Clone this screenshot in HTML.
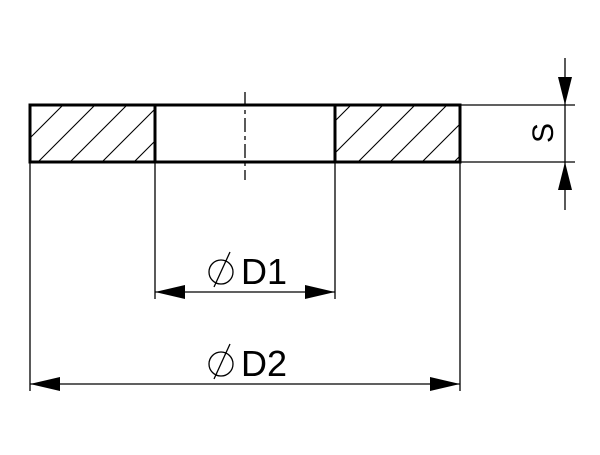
<!DOCTYPE html>
<html><head><style>body{margin:0;background:#fff}</style></head><body>
<svg width="600" height="450" viewBox="0 0 600 450" xmlns="http://www.w3.org/2000/svg">
<defs>
<pattern id="h" patternUnits="userSpaceOnUse" width="32" height="32" patternTransform="translate(8,0)">
<path d="M-8,40 L40,-8 M-40,40 L40,-40 M24,40 L72,-8" stroke="#000" stroke-width="1.1"/>
</pattern>
</defs>
<rect x="30" y="105" width="125" height="57" fill="url(#h)"/>
<rect x="335" y="105" width="125" height="57" fill="url(#h)"/>
<g fill="none" stroke="#000">
<rect x="30" y="105" width="430" height="57" stroke-width="3"/>
<line x1="155" y1="105" x2="155" y2="162" stroke-width="3"/>
<line x1="335" y1="105" x2="335" y2="162" stroke-width="3"/>
<line x1="245" y1="92" x2="245" y2="180" stroke-width="1.3" stroke-dasharray="14,4,4,4"/>
<g stroke-width="1.3">
<line x1="30" y1="162" x2="30" y2="391"/>
<line x1="460" y1="162" x2="460" y2="391"/>
<line x1="155" y1="162" x2="155" y2="299"/>
<line x1="335" y1="162" x2="335" y2="299"/>
<line x1="155" y1="292" x2="335" y2="292"/>
<line x1="30" y1="384" x2="460" y2="384"/>
<line x1="460" y1="105" x2="575" y2="105"/>
<line x1="460" y1="162" x2="575" y2="162"/>
<line x1="565" y1="58" x2="565" y2="210"/>
<circle cx="221" cy="272" r="12"/>
<line x1="230" y1="252" x2="214" y2="287"/>
<circle cx="221" cy="364" r="12"/>
<line x1="230" y1="344" x2="214" y2="379"/>
</g>
</g>
<g fill="#000">
<polygon points="155,292 185,285 185,299"/>
<polygon points="335,292 305,285 305,299"/>
<polygon points="30,384 60,377 60,391"/>
<polygon points="460,384 430,377 430,391"/>
<polygon points="565,105 558,77 572,77"/>
<polygon points="565,162 558,190 572,190"/>
</g>
<g font-family="Liberation Sans, sans-serif" font-size="36" fill="#000">
<text x="241" y="284">D1</text>
<text x="241" y="376">D2</text>
<text transform="translate(553,133) rotate(-90)" text-anchor="middle" font-size="30">S</text>
</g>
</svg>
</body></html>
